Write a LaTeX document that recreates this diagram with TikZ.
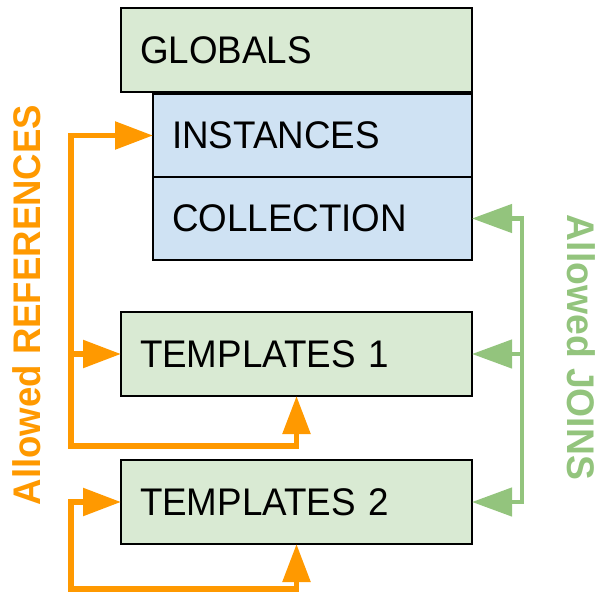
\documentclass[tikz,border=0pt]{standalone}
\usepackage{fontspec}
\setmainfont{Liberation Sans}
\usetikzlibrary{arrows.meta}
\definecolor{boxgreen}{HTML}{D9EAD3}
\definecolor{boxblue}{HTML}{CFE2F3}
\definecolor{refcol}{HTML}{FF9900}
\definecolor{joincol}{HTML}{93C47D}
\tikzset{
  reftip/.tip={Triangle[length=38pt,width=27pt]},
  jointip/.tip={Triangle[length=40pt,width=28pt]},
}
% slightly narrowed lettering
\newcommand{\narrowtext}[2]{\scalebox{#1}[1]{#2}}
\begin{document}
\begin{tikzpicture}[x=1pt,y=-1pt,
  block/.style={draw=black, line width=2pt, outer sep=0pt, anchor=north west,
    minimum height=84pt, inner xsep=19pt, inner ysep=0pt, align=left,
    font=\fontsize{38.5}{46}\selectfont},
  wideblock/.style={block, text width=313pt},
  narrowblock/.style={block, text width=281pt},
  refline/.style={draw=refcol, line width=5.5pt},
  joinline/.style={draw=joincol, line width=4.5pt},
  label/.style={font=\bfseries\fontsize{38.5}{46}\selectfont, inner sep=0pt},
]
\useasboundingbox (0,0) rectangle (598,595);

% layers
\node[wideblock, fill=boxgreen, minimum height=84pt] (glob) at (121,8) {\narrowtext{0.955}{GLOBALS}};
\node[narrowblock, fill=boxblue, minimum height=83pt] (inst) at (153,94) {\narrowtext{0.955}{INSTANCES}};
\node[narrowblock, fill=boxblue, minimum height=83pt] (coll) at (153,177) {\narrowtext{0.955}{COLLECTION}};
\node[wideblock, fill=boxgreen] (tpl1) at (121,312) {\narrowtext{0.955}{TEMPLATES 1}};
\node[wideblock, fill=boxgreen] (tpl2) at (121,460) {\narrowtext{0.955}{TEMPLATES 2}};

% reference paths
\coordinate (refa) at (71,446);
\coordinate (refb) at (71,589);
\draw[refline, reftip-reftip] (tpl1.south) |- (refa) |- (inst.west);
\draw[refline, -reftip] (refa |- tpl1.west) -- (tpl1.west);
\draw[refline, reftip-reftip] (tpl2.west) -| (refb) -| (tpl2.south);

% join paths
\coordinate (joinb) at (522,0);
\draw[joinline, jointip-jointip] (coll.east) -| (joinb |- tpl2.east) -- (tpl2.east);
\draw[joinline, -jointip] (joinb |- tpl1.east) -- (tpl1.east);

% captions
\node[label, rotate=90, text=refcol] (reflabel) at (26.5,305) {\narrowtext{0.95}{Allowed REFERENCES}};
\node[label, rotate=-90, text=joincol] (joinlabel) at (581,347.5) {\narrowtext{0.968}{Allowed JOINS}};
\end{tikzpicture}
\end{document}
